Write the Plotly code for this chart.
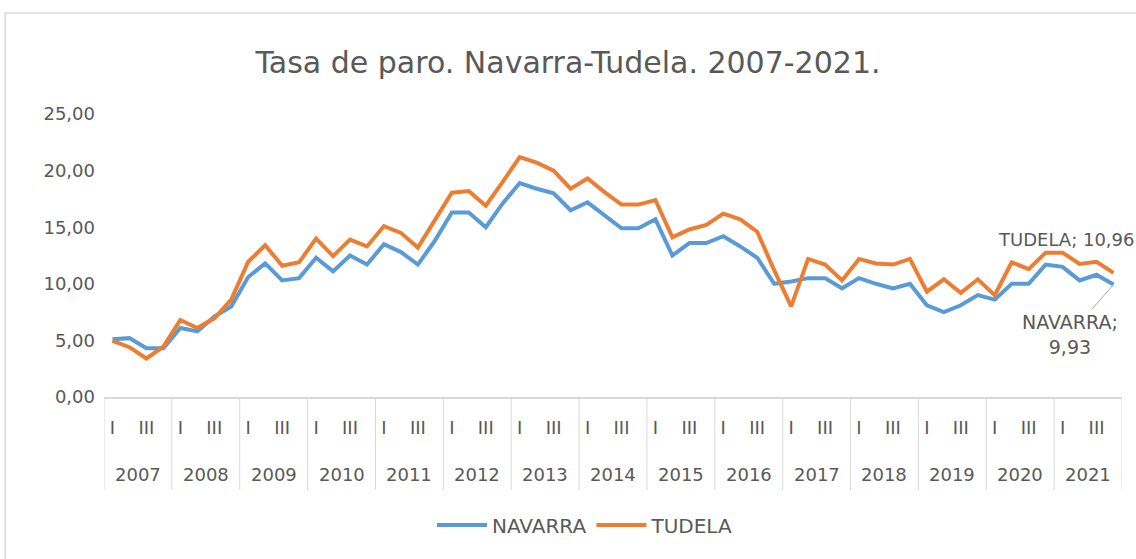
import plotly.graph_objects as go

years = [str(y) for y in range(2007, 2022)]
quarter_labels = ["I", "", "III", ""]  # II and IV labels are hidden in the reference

navarra = [5.1, 5.2, 4.3, 4.3,
           6.1, 5.8, 7.1, 8.0,
           10.6, 11.8, 10.3, 10.5,
           12.3, 11.1, 12.5, 11.7,
           13.5, 12.8, 11.7, 13.8,
           16.3, 16.3, 15.0, 17.1,
           18.9, 18.4, 18.0, 16.5,
           17.2, 16.0, 14.9, 14.9,
           15.7, 12.5, 13.6, 13.6,
           14.2, 13.3, 12.3, 10.0,
           10.2, 10.5, 10.5, 9.6,
           10.5, 10.0, 9.6, 10.0,
           8.1, 7.5, 8.1, 9.0,
           8.6, 10.0, 10.0, 11.7,
           11.5, 10.3, 10.8, 9.93]

tudela = [4.95, 4.4, 3.4, 4.45,
          6.8, 6.1, 6.95, 8.6,
          11.95, 13.4, 11.6, 11.9,
          14.0, 12.45, 13.9, 13.3,
          15.1, 14.5, 13.2, 15.6,
          18.05, 18.2, 16.9, 19.0,
          21.2, 20.7, 20.0, 18.4,
          19.3, 18.1, 17.0, 17.0,
          17.4, 14.1, 14.8, 15.2,
          16.2, 15.7, 14.6, 11.2,
          8.0, 12.2, 11.7, 10.3,
          12.2, 11.8, 11.7, 12.2,
          9.3, 10.4, 9.2, 10.4,
          9.0, 11.9, 11.3, 12.75,
          12.75, 11.75, 11.95, 10.96]

nq = len(quarter_labels)
idx = list(range(len(navarra)))
tick_text = [quarter_labels[i % nq] for i in idx]

FONT = "DejaVu Sans"
GREY = "#595959"
LIGHT = "#D9D9D9"

fig = go.Figure()
fig.add_trace(go.Scatter(x=idx, y=navarra, mode="lines", name="NAVARRA",
                         line=dict(color="#5B9BD5", width=4)))
fig.add_trace(go.Scatter(x=idx, y=tudela, mode="lines", name="TUDELA",
                         line=dict(color="#ED7D31", width=4)))

# year labels and dividers of the grouped category axis
for k, yr in enumerate(years):
    fig.add_annotation(x=k * nq + (nq - 1) / 2, y=-0.2756, xref="x", yref="paper",
                       text=yr, showarrow=False, yanchor="middle",
                       font=dict(family=FONT, size=18, color=GREY))
for k in range(len(years) + 1):
    fig.add_shape(type="line", xref="x", yref="paper",
                  x0=k * nq - 0.5, x1=k * nq - 0.5, y0=0, y1=-0.3286,
                  line=dict(color=LIGHT, width=1))

last = len(navarra) - 1
fig.add_annotation(x=last, y=tudela[-1], xref="x", yref="y",
                   text="TUDELA; " + f"{tudela[-1]:.2f}".replace(".", ","),
                   showarrow=False, xanchor="left", yanchor="middle",
                   xshift=-118, yshift=33,
                   font=dict(family=FONT, size=18, color=GREY))
fig.add_annotation(x=last, y=navarra[-1], xref="x", yref="y",
                   text="NAVARRA;<br>" + f"{navarra[-1]:.2f}".replace(".", ","),
                   showarrow=True, arrowhead=0, arrowwidth=1, arrowcolor="#A6A6A6",
                   ax=-44, ay=50, standoff=0,
                   font=dict(family=FONT, size=19, color=GREY))

# outer chart border
fig.add_shape(type="rect", xref="paper", yref="paper",
              x0=-0.097, x1=1.2, y0=-0.8, y1=1.357,
              line=dict(color=LIGHT, width=1.5), layer="below")

fig.update_layout(
    width=1136, height=559,
    margin=dict(l=104, r=14, t=114, b=162),
    paper_bgcolor="white", plot_bgcolor="white",
    separators=",.",
    title=dict(text="Tasa de paro. Navarra-Tudela. 2007-2021.",
               x=0.5, xanchor="center", y=1 - 62 / 559, yanchor="middle",
               font=dict(family=FONT, size=30, color=GREY)),
    legend=dict(orientation="h", x=0.4725, xanchor="center", y=-0.452, yanchor="middle",
                font=dict(family=FONT, size=20, color=GREY), itemwidth=50),
    showlegend=True,
)
fig.update_yaxes(range=[0, 25], dtick=5, tickformat=".2f", showgrid=False,
                 zeroline=False, showline=False, ticks="", ticklabelstandoff=8,
                 tickfont=dict(family=FONT, size=18, color=GREY))
fig.update_xaxes(range=[-0.5, len(navarra) - 0.5], tickmode="array",
                 tickvals=idx, ticktext=tick_text, tickangle=0,
                 showgrid=False, showline=True, zeroline=False,
                 linecolor=LIGHT, linewidth=1.5, ticks="", ticklabelstandoff=14,
                 tickfont=dict(family=FONT, size=18, color=GREY))

fig.write_html("out.html", config={"displayModeBar": False},
               post_script="document.body.style.margin='0';")
